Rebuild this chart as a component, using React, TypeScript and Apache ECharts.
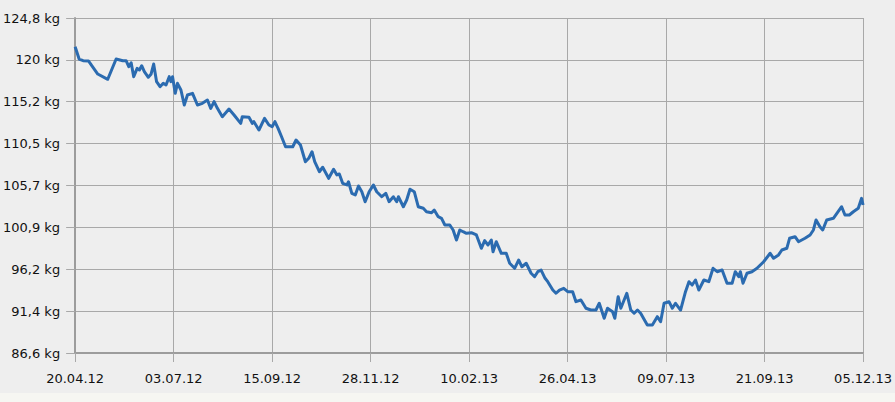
import React, { useEffect, useRef } from "react";
import * as echarts from "echarts";

// Tick labels
const xTickLabels = ["20.04.12", "03.07.12", "15.09.12", "28.11.12", "10.02.13", "26.04.13", "09.07.13", "21.09.13", "05.12.13"];
const yTickLabels = ["86,6 kg", "91,4 kg", "96,2 kg", "100,9 kg", "105,7 kg", "110,5 kg", "115,2 kg", "120 kg", "124,8 kg"];

// Axis ranges (days since 20.04.12 / kg)
const xMin = 0;
const xMax = 592;
const xStep = 74;
const yMin = 86.6;
const yMax = 124.8;
const yStep = 4.775;

// Measurements: days since 20.04.12
const dayOffsets = [0,3,6,10,17,24.5,30.8,35.8,38.3,40.3,42.1,44.0,46.6,48.3,50.0,52.0,55.0,57.0,59.0,61.2,63.8,66.2,68.3,70.7,72.0,73.2,75.2,76.9,79.5,82.0,84.4,88.2,91.9,95.6,99.4,101.9,104.4,106.9,110.6,115.6,119.4,124.4,125.6,130.6,133.1,134.3,138.1,142.3,145.6,148.0,150.1,152.5,155.1,158.1,161.8,163.5,166.0,169.3,173.0,175.5,178.0,180.0,183.5,186.0,190.5,194.2,196.7,198.5,201.0,204.2,205.4,207.9,210.5,212.9,215.4,217.9,220.9,224.1,226.6,230.4,233.4,235.9,239.1,241.6,242.9,246.6,249.1,251.6,254.8,257.8,261.6,264.0,267.8,269.8,272.8,275.3,277.8,281.5,284.0,286.5,289.0,291.5,294.0,297.7,301.5,305.2,307.7,310.2,312.7,314.0,316.4,320.2,323.9,326.5,330.2,333.2,335.7,338.9,342.6,345.2,347.6,350.1,353.1,355.1,358.9,361.3,363.9,367.1,370.1,373.8,376.3,380.0,383.8,387.5,391.3,393.8,397.5,400.0,403.8,405.5,408.0,410.0,414.5,417.5,420.0,422.5,424.9,429.9,433.7,437.4,439.9,442.5,446.2,448.7,451.1,454.9,458.6,461.2,463.6,466.1,468.6,472.4,476.1,479.3,482.4,486.1,489.8,493.6,496.0,498.6,499.8,501.8,504.8,508.5,512.3,517.3,522.2,524.8,528.5,531.0,534.7,536.8,540.9,543.5,548.4,552.2,554.7,556.7,559.6,561.7,564.7,569.7,575.9,578.4,581.7,584.7,588.4,590.9,592];

// Measurements: weight in kg
const weightKg = [121.53,120.12,119.93,119.90,118.41,117.81,120.12,119.93,119.93,119.25,119.70,118.11,119.06,118.87,119.36,118.68,118.04,118.38,119.55,117.54,116.97,117.35,117.16,118.11,117.54,118.11,116.21,117.35,116.59,114.88,116.02,116.21,114.88,115.07,115.45,114.50,115.26,114.50,113.55,114.42,113.74,112.79,113.55,113.48,112.79,112.98,112.03,113.36,112.60,112.41,112.98,112.22,111.26,110.12,110.12,110.12,110.89,110.32,108.41,108.80,109.55,108.41,107.27,107.78,106.52,107.55,106.90,107.01,105.95,105.76,106.13,104.81,104.62,105.64,104.99,103.85,104.99,105.76,104.99,104.42,104.81,103.85,104.42,103.85,104.42,103.28,104.05,105.27,104.99,103.28,103.10,102.71,102.60,102.91,102.14,101.96,101.20,101.20,100.63,99.49,100.63,100.43,100.25,100.32,100.06,98.54,99.41,98.92,99.49,98.15,99.29,97.97,97.97,96.83,96.26,97.20,96.44,96.83,95.69,95.30,95.87,96.06,95.12,94.73,93.78,93.41,93.78,93.98,93.59,93.59,92.45,92.64,91.70,91.50,91.50,92.27,90.56,91.70,91.31,90.56,93.02,91.70,93.41,91.50,91.13,91.50,91.13,89.79,89.79,90.74,90.17,92.27,92.45,91.70,92.27,91.50,93.59,94.73,94.35,94.92,93.78,94.92,94.73,96.26,95.87,96.06,94.55,94.55,95.87,95.30,95.87,94.55,95.69,95.87,96.26,97.01,97.97,97.40,97.78,98.35,98.54,99.68,99.86,99.29,99.68,100.06,100.63,101.77,101.00,100.63,101.77,101.96,103.28,102.34,102.34,102.71,103.10,104.24,103.48];

const FONT = "'DejaVu Sans', Verdana, sans-serif";

export default function App() {
  const ref = useRef<HTMLDivElement | null>(null);

  useEffect(() => {
    document.body.style.margin = "0";
    if (!ref.current) return;
    const chart = echarts.init(ref.current, undefined, { renderer: "svg" });
    const n = Math.min(dayOffsets.length, weightKg.length);
    const data: [number, number][] = [];
    for (let i = 0; i < n; i++) data.push([dayOffsets[i], weightKg[i]]);

    chart.setOption({
      animation: false,
      backgroundColor: "#eeeeee",
      textStyle: { fontFamily: FONT },
      grid: { left: 75, right: 29, top: 18, bottom: 49, containLabel: false },
      graphic: [
        {
          type: "rect",
          left: 0,
          top: 393,
          shape: { width: 895, height: 9 },
          style: { fill: "#f6f6f2" },
          silent: true,
        },
      ],
      xAxis: {
        type: "value",
        min: xMin,
        max: xMax,
        interval: xStep,
        axisLine: { show: true, onZero: false, lineStyle: { color: "#9c9c9c", width: 2 } },
        axisTick: { show: true, length: 9, lineStyle: { color: "#a8a8a8", width: 1 } },
        splitLine: { show: true, lineStyle: { color: "#a8a8a8", width: 1 } },
        axisLabel: {
          margin: 19,
          color: "#111",
          fontSize: 13,
          fontFamily: FONT,
          showMinLabel: true,
          showMaxLabel: true,
          formatter: (v: number) => xTickLabels[Math.round((v - xMin) / xStep)] ?? "",
        },
      },
      yAxis: {
        type: "value",
        min: yMin,
        max: yMax,
        interval: yStep,
        axisLine: { show: true, onZero: false, lineStyle: { color: "#9c9c9c", width: 2 } },
        axisTick: { show: true, length: 9, lineStyle: { color: "#a8a8a8", width: 1 } },
        splitLine: { show: true, lineStyle: { color: "#a8a8a8", width: 1 } },
        axisLabel: {
          margin: 15,
          color: "#111",
          fontSize: 13,
          fontFamily: FONT,
          showMinLabel: true,
          showMaxLabel: true,
          formatter: (v: number) => yTickLabels[Math.round((v - yMin) / yStep)] ?? "",
        },
      },
      series: [
        {
          type: "line",
          data,
          showSymbol: false,
          symbol: "none",
          clip: false,
          lineStyle: { color: "#2b6bb0", width: 3, join: "round" },
        },
      ],
    });

    return () => {
      chart.dispose();
    };
  }, []);

  return (
    <div
      ref={ref}
      style={{ position: "absolute", left: 0, top: 0, width: 895, height: 402 }}
    />
  );
}
